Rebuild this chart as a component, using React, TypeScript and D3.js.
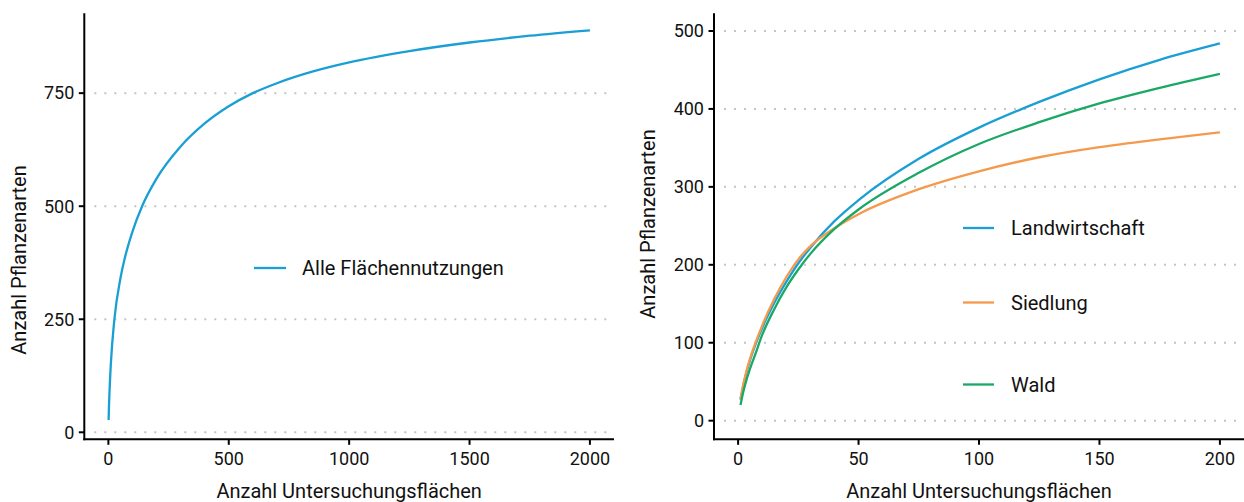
import React from "react";
import * as d3 from "d3";

const allX = [1, 2, 5, 10, 25, 50, 70, 100, 140, 200, 300, 400, 500, 600, 700, 850, 1000, 1250, 1500, 1750, 2000];
const allY = [27, 48, 93, 149, 250, 340, 389, 444, 500, 561, 632, 683, 721, 750, 772, 798, 818, 843, 862, 877, 889];

const landX = [1, 2, 3, 5, 7, 10, 15, 20, 25, 30, 40, 50, 75, 100, 125, 150, 175, 200];
const landwirtschaft = [27, 43, 56, 78, 96, 119, 151, 178, 202, 222, 256, 283, 336, 376, 409, 438, 463, 484];
const siedlung = [28, 44, 58, 80, 98, 122, 156, 184, 207, 224, 247, 265, 297, 320, 338, 351, 361, 370];
const wald = [20, 35, 47, 67, 84, 110, 143, 171, 194, 214, 246, 271, 318, 355, 383, 407, 427, 445];

const leftYTicks = [0, 250, 500, 750];
const leftXTicks = [0, 500, 1000, 1500, 2000];
const rightYTicks = [0, 100, 200, 300, 400, 500];
const rightXTicks = [0, 50, 100, 150, 200];

const seriesNames = ["Landwirtschaft", "Siedlung", "Wald"];
const allName = "Alle Flächennutzungen";
const xTitle = "Anzahl Untersuchungsflächen";
const yTitle = "Anzahl Pflanzenarten";

const BLUE = "#1a9fd4";
const ORANGE = "#f49a4c";
const GREEN = "#1ba866";
const FONT = "Roboto, 'Noto Sans', sans-serif";

const TOP = 13.3;
const BOTTOM = 439.3;

function Panel(props: {
  x0: number; x1: number; xDomain: [number, number]; yDomain: [number, number];
  xTicks: number[]; yTicks: number[];
  series: { xs: number[]; ys: number[]; color: string }[];
  yTitleCenter: number; yTitleX: number;
}) {
  const { x0, x1, xDomain, yDomain, xTicks, yTicks, series, yTitleCenter, yTitleX } = props;
  const x = d3.scaleLinear().domain(xDomain).range([x0, x1]);
  const y = d3.scaleLinear().domain(yDomain).range([BOTTOM, TOP]);
  const line = d3.line<[number, number]>().x(d => x(d[0])).y(d => y(d[1])).curve(d3.curveMonotoneX);
  return (
    <g>
      {yTicks.map(t => (
        <line key={"g" + t} x1={x0 + 10} x2={x1} y1={y(t)} y2={y(t)} stroke="#c4c4c4" strokeWidth={2} strokeDasharray="2 8" />
      ))}
      {series.map((s, i) => (
        <path key={i} d={line(s.xs.map((v, j) => [v, s.ys[j]] as [number, number])) || ""} fill="none" stroke={s.color} strokeWidth={2.3} />
      ))}
      <line x1={x0} x2={x0} y1={TOP} y2={BOTTOM + 1} stroke="#000" strokeWidth={2} />
      <line x1={x0 - 1} x2={x1} y1={BOTTOM} y2={BOTTOM} stroke="#000" strokeWidth={2} />
      {yTicks.map(t => (
        <g key={"y" + t}>
          <line x1={x0 - 5.5} x2={x0} y1={y(t)} y2={y(t)} stroke="#000" strokeWidth={2} />
          <text x={x0 - 10} y={y(t)} dy="0.35em" textAnchor="end" fontSize={18} fontFamily={FONT} fill="#111">{t}</text>
        </g>
      ))}
      {xTicks.map(t => (
        <g key={"x" + t}>
          <line x1={x(t)} x2={x(t)} y1={BOTTOM} y2={BOTTOM + 5.5} stroke="#000" strokeWidth={2} />
          <text x={x(t)} y={BOTTOM + 26} textAnchor="middle" fontSize={18} fontFamily={FONT} fill="#111">{t}</text>
        </g>
      ))}
      <text x={(x0 + x1) / 2} y={498} textAnchor="middle" fontSize={20} fontFamily={FONT} fill="#111">{xTitle}</text>
      <text transform={`translate(${yTitleX},${yTitleCenter}) rotate(-90)`} textAnchor="middle" fontSize={20} fontFamily={FONT} fill="#111">{yTitle}</text>
    </g>
  );
}

export default function App() {
  const legend = [
    { name: seriesNames[0], color: BLUE, y: 228 },
    { name: seriesNames[1], color: ORANGE, y: 302.5 },
    { name: seriesNames[2], color: GREEN, y: 384.5 },
  ];
  return (
    <>
      <style>{`body{margin:0}`}</style>
      <svg width={1244} height={502} style={{ display: "block", background: "#fff" }}>
        <Panel
          x0={84.3} x1={614} xDomain={[-100, 2100]} yDomain={[-15.5, 926.6]}
          xTicks={leftXTicks} yTicks={leftYTicks}
          series={[{ xs: allX, ys: allY, color: BLUE }]}
          yTitleCenter={260} yTitleX={26}
        />
        <Panel
          x0={714} x1={1244} xDomain={[-10, 210]} yDomain={[-23.9, 522.7]}
          xTicks={rightXTicks} yTicks={rightYTicks}
          series={[
            { xs: landX, ys: landwirtschaft, color: BLUE },
            { xs: landX, ys: siedlung, color: ORANGE },
            { xs: landX, ys: wald, color: GREEN },
          ]}
          yTitleCenter={224} yTitleX={655}
        />
        <line x1={254} x2={286} y1={268} y2={268} stroke={BLUE} strokeWidth={2.3} />
        <text x={302} y={268} dy="0.36em" fontSize={20} fontFamily={FONT} fill="#111">{allName}</text>
        {legend.map(l => (
          <g key={l.name}>
            <line x1={963} x2={994} y1={l.y} y2={l.y} stroke={l.color} strokeWidth={2.3} />
            <text x={1011} y={l.y} dy="0.36em" fontSize={20} fontFamily={FONT} fill="#111">{l.name}</text>
          </g>
        ))}
      </svg>
    </>
  );
}
